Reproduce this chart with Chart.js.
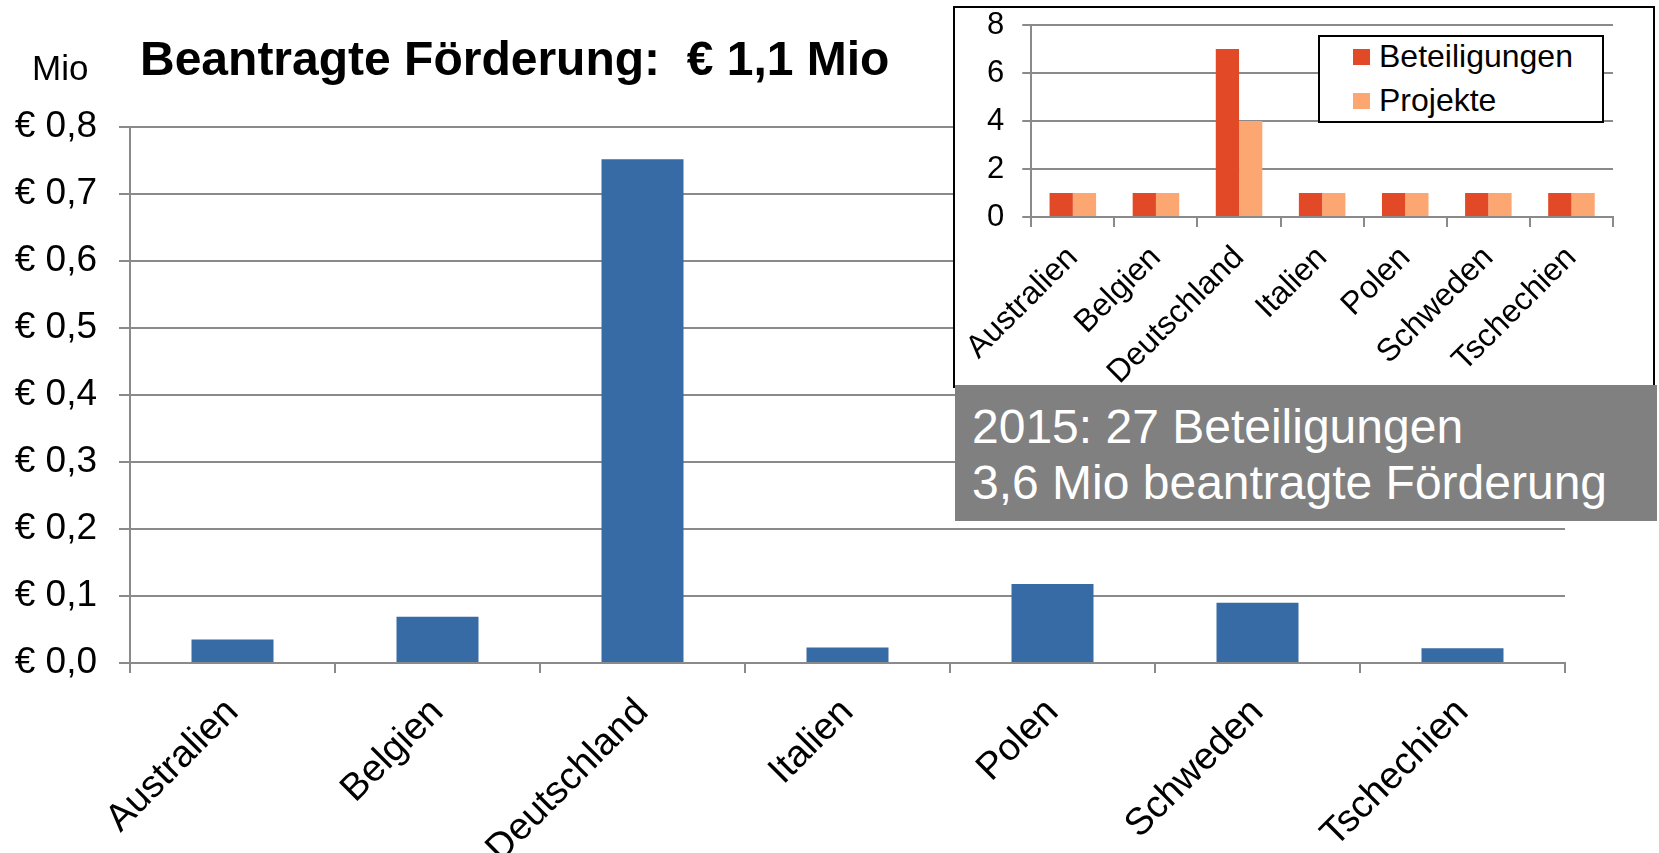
<!DOCTYPE html>
<html><head><meta charset="utf-8">
<script src="https://cdn.jsdelivr.net/npm/chart.js@4.4.1/dist/chart.umd.min.js"></script>
<style>
html,body{margin:0;padding:0;background:#fff;}
body{width:1659px;height:853px;position:relative;overflow:hidden;font-family:"Liberation Sans",Arial,sans-serif;color:#000;}
#main{position:absolute;left:0;top:0;}
.txt{position:absolute;white-space:pre;line-height:1;}
#mio{left:32px;top:50px;font-size:35px;}
#title{left:140px;top:35px;font-size:48px;font-weight:bold;}
#inset{position:absolute;left:953px;top:6px;width:702px;height:382px;border:2px solid #000;box-sizing:border-box;background:#fff;}
#insetCanvas{position:absolute;left:0;top:0;}
#legend{position:absolute;left:1318px;top:35px;width:286px;height:88px;border:2px solid #000;box-sizing:border-box;background:#fff;}
.li{position:absolute;left:59px;font-size:32px;line-height:1;white-space:pre;}
.sw{position:absolute;left:33px;width:17px;height:16px;}
#note{position:absolute;left:955px;top:385px;width:702px;height:136px;background:#808080;color:#fff;}
#note div{position:absolute;left:17px;font-size:48px;line-height:1;white-space:pre;}
</style></head>
<body>
<canvas id="main" width="1659" height="853"></canvas>
<div class="txt" id="mio">Mio</div>
<div class="txt" id="title">Beantragte Förderung:  € 1,1 Mio</div>
<div id="inset"><canvas id="insetCanvas" width="698" height="378"></canvas></div>
<div id="legend">
  <div class="sw" style="top:12px;background:#e24a27"></div><div class="li" style="top:3px" id="lg1"></div>
  <div class="sw" style="top:56px;background:#fca772"></div><div class="li" style="top:47px" id="lg2"></div>
</div>
<div id="note"><div style="top:18px">2015: 27 Beteiligungen</div><div style="top:74px">3,6 Mio beantragte Förderung</div></div>
<script>
const categories = ["Australien","Belgien","Deutschland","Italien","Polen","Schweden","Tschechien"];
const foerderungMio = [0.035,0.069,0.752,0.023,0.118,0.090,0.022];
const beteiligungen = [1,1,7,1,1,1,1];
const projekte = [1,1,4,1,1,1,1];
const seriesNames = ["Beteiligungen","Projekte"];
const mainTicks = [0,0.1,0.2,0.3,0.4,0.5,0.6,0.7,0.8];
const insetTicks = [0,2,4,6,8];

const FONT = "'Liberation Sans', Arial, sans-serif";
const GRID = "#8a8a8a";
document.getElementById('lg1').textContent = seriesNames[0];
document.getElementById('lg2').textContent = seriesNames[1];

new Chart(document.getElementById('main'), {
  type: 'bar',
  data: { labels: categories, datasets: [{ data: foerderungMio, backgroundColor: '#376ba5', borderWidth: 0, categoryPercentage: 1.0, barPercentage: 0.4 }] },
  options: {
    responsive: false, animation: false,
    layout: { padding: { left: 0, top: 127, right: 94, bottom: 0 } },
    plugins: { legend: { display: false }, tooltip: { enabled: false } },
    scales: {
      x: {
        grid: { display: true, drawOnChartArea: false, drawTicks: true, tickLength: 10, color: GRID, lineWidth: 2, offset: true },
        border: { display: true, color: GRID, width: 2 },
        ticks: { color: '#000', font: { family: FONT, size: 38 }, minRotation: 45, maxRotation: 45, autoSkip: false, padding: 17 },
        afterFit: s => { s.height = 190; }
      },
      y: {
        min: 0, max: 0.8,
        afterBuildTicks: s => { s.ticks = mainTicks.map(v => ({ value: v })); },
        grid: { color: GRID, lineWidth: 2, drawTicks: true, tickLength: 11 },
        border: { display: true, color: GRID, width: 2 },
        ticks: { color: '#000', font: { family: FONT, size: 37 }, padding: 22,
          callback: v => '€ ' + v.toFixed(1).replace('.', ',') },
        afterFit: s => { s.width = 130; s.paddingTop = 0; s.paddingBottom = 0; }
      }
    }
  }
});

new Chart(document.getElementById('insetCanvas'), {
  type: 'bar',
  data: { labels: categories, datasets: [
    { label: seriesNames[0], data: beteiligungen, backgroundColor: '#e24a27', borderWidth: 0, categoryPercentage: 0.56, barPercentage: 1.0 },
    { label: seriesNames[1], data: projekte, backgroundColor: '#fca772', borderWidth: 0, categoryPercentage: 0.56, barPercentage: 1.0 }
  ] },
  options: {
    responsive: false, animation: false,
    layout: { padding: { left: 0, top: 17, right: 40, bottom: 0 } },
    plugins: { legend: { display: false }, tooltip: { enabled: false } },
    scales: {
      x: {
        grid: { display: true, drawOnChartArea: false, drawTicks: true, tickLength: 10, color: GRID, lineWidth: 2, offset: true },
        border: { display: true, color: GRID, width: 2 },
        ticks: { color: '#000', font: { family: FONT, size: 32 }, minRotation: 45, maxRotation: 45, autoSkip: false, padding: 12 },
        afterFit: s => { s.height = 169; }
      },
      y: {
        min: 0, max: 8,
        afterBuildTicks: s => { s.ticks = insetTicks.map(v => ({ value: v })); },
        grid: { color: GRID, lineWidth: 2, drawTicks: true, tickLength: 9 },
        border: { display: true, color: GRID, width: 2 },
        ticks: { color: '#000', font: { family: FONT, size: 31 }, padding: 18 },
        afterFit: s => { s.width = 73; s.paddingTop = 0; s.paddingBottom = 0; }
      }
    }
  }
});
</script>
</body></html>
